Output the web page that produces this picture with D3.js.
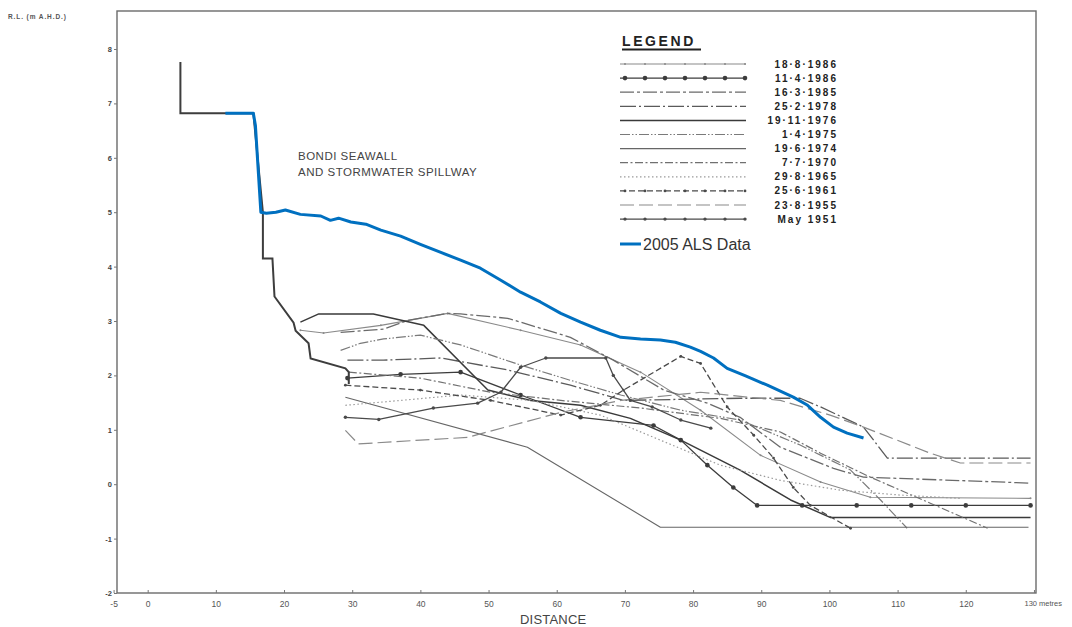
<!DOCTYPE html>
<html>
<head>
<meta charset="utf-8">
<script src="https://cdn.jsdelivr.net/npm/d3@7"></script>
<style>
  body { margin: 0; background: #fff; }
  text { font-family: "Liberation Sans", Arial, sans-serif; }
</style>
</head>
<body>
<div id="viz-container"></div>
<script>
// profile data: [distance (m), R.L. (m AHD)]
let seawall = [[4.8,7.76],[4.8,6.82],[15.5,6.82],[16.9,5.0],[16.9,4.15],[18.3,4.15],[18.6,3.45],[21.4,2.97],[21.7,2.82],[23.6,2.59],[23.9,2.31],[29.0,2.13],[29.5,2.06],[29.5,1.84]];

let als2005 = [[11.4,6.82],[15.5,6.82],[15.8,6.6],[16.6,5.0],[17.4,4.98],[18.8,5.0],[20.2,5.04],[22.4,4.96],[25.4,4.93],[26.8,4.85],[28.0,4.89],[29.8,4.82],[32.0,4.78],[34.2,4.67],[37.1,4.56],[40.0,4.41],[43.0,4.26],[45.9,4.12],[48.8,3.97],[51.8,3.75],[54.7,3.53],[57.6,3.35],[60.6,3.14],[63.5,2.98],[66.4,2.83],[69.4,2.70],[72.3,2.67],[75.2,2.65],[77.4,2.61],[79.6,2.52],[81.1,2.44],[83.0,2.32],[85.0,2.13],[87.7,1.99],[90.9,1.82],[94.7,1.60],[96.8,1.45],[98.7,1.23],[100.6,1.05],[102.6,0.94],[105.0,0.85]];

let p1986a = [[22.4,2.83],[25.8,2.78],[34.2,2.92],[44.0,3.14],[54.7,2.83],[63.5,2.56],[72.3,2.06],[81.1,1.36],[89.9,0.53],[98.7,0.04],[106.0,-0.24],[129.5,-0.26]];
let p1986b = [[29.3,1.95],[37.1,2.02],[45.9,2.06],[54.7,1.64],[63.5,1.23],[74.2,1.08],[78.2,0.81],[82.1,0.35],[85.9,-0.06],[89.4,-0.39],[96,-0.39],[104,-0.39],[112,-0.39],[120,-0.39],[129.5,-0.39]];
let p1985 = [[28.3,2.79],[34.6,2.85],[38.1,3.01],[44.0,3.14],[45.9,3.13],[52.8,3.05],[62.0,2.70],[68.3,2.28],[75.7,1.73],[82.1,1.49],[86.9,1.23],[92.8,0.68],[100.6,0.29],[105.0,0.13],[129.5,0.02]];
let p1978 = [[29.3,2.28],[34.6,2.28],[43.0,2.32],[52.8,2.10],[62.0,1.82],[69.8,1.54],[86.9,1.58],[95.7,1.58],[98.7,1.42],[105.0,1.05],[108.5,0.48],[129.5,0.48]];
let p1976 = [[22.4,2.98],[25.1,3.13],[33.1,3.13],[40.5,2.92],[49.9,1.73],[56.2,1.54],[63.5,1.45],[70.8,1.21],[78.2,0.81],[86.9,0.26],[94.3,-0.29],[100.1,-0.61],[129.5,-0.61]];
let p1975 = [[28.3,2.46],[31.2,2.59],[34.6,2.67],[40.0,2.74],[45.9,2.56],[54.7,2.19],[62.0,1.91],[69.4,1.64],[78.2,1.36],[86.9,1.18],[95.7,0.72],[103.1,0.26],[107.5,-0.29],[111.4,-0.81]];
let p1974 = [[29.0,1.60],[55.7,0.68],[75.2,-0.79],[129.2,-0.79]];
let p1970 = [[29.5,2.06],[40.0,1.95],[50.3,1.69],[60.6,1.54],[72.3,1.40],[84.0,1.21],[92.8,0.96],[98.7,0.57],[106.0,0.13],[114.8,-0.35],[123.2,-0.81]];
let p1965 = [[29.0,1.45],[37.1,1.54],[45.9,1.64],[56.2,1.54],[66.4,1.27],[75.2,0.81],[84.0,0.35],[92.8,0.07],[101.6,-0.11],[110.4,-0.20],[119.2,-0.26]];
let p1961 = [[29.0,1.82],[40.0,1.73],[50.3,1.54],[60.6,1.27],[66.4,1.45],[69.8,1.73],[78.2,2.35],[81.1,2.22],[85.0,1.42],[88.9,0.90],[91.8,0.48],[94.7,-0.06],[97.2,-0.39],[103.1,-0.81]];
let p1955 = [[29.0,0.99],[30.9,0.74],[40.0,0.81],[46.9,0.86],[50.7,0.99],[60.6,1.32],[69.4,1.54],[81.1,1.69],[92.8,1.54],[100.1,1.27],[105.0,1.05],[114.8,0.57],[119.2,0.39],[129.5,0.39]];
let p1951 = [[29.0,1.23],[33.9,1.19],[41.9,1.40],[48.4,1.49],[51.8,1.69],[54.7,2.15],[58.4,2.32],[67.2,2.32],[68.3,2.00],[70.8,1.54],[74.0,1.42],[78.2,1.18],[82.6,1.03]];

let surveyDates = ["18·8·1986","11·4·1986","16·3·1985","25·2·1978","19·11·1976","1·4·1975","19·6·1974","7·7·1970","29·8·1965","25·6·1961","23·8·1955","May 1951"];
let surveyProfiles = [p1986a, p1986b, p1985, p1978, p1976, p1975, p1974, p1970, p1965, p1961, p1955, p1951];

let xTicks = [-5,0,10,20,30,40,50,60,70,80,90,100,110,120,130];
let yTicks = [-2,-1,0,1,2,3,4,5,6,7,8];

// line look for each survey (same order as surveyDates)
let looks = [
  {color:"#8a8a8a", width:1.1, dash:null, dot:1.0},
  {color:"#3c3c3c", width:1.3, dash:null, dot:2.3},
  {color:"#6a6a6a", width:1.3, dash:"14,3,3,3", dot:0},
  {color:"#5a5a5a", width:1.3, dash:"16,3,2,3", dot:0},
  {color:"#3a3a3a", width:1.5, dash:null, dot:0},
  {color:"#7a7a7a", width:1.2, dash:"10,2,1.5,2,1.5,2", dot:0},
  {color:"#666", width:1.1, dash:null, dot:0},
  {color:"#707070", width:1.2, dash:"8,2.5,2,2.5", dot:0},
  {color:"#9a9a9a", width:1.2, dash:"1.5,2.5", dot:0},
  {color:"#4a4a4a", width:1.3, dash:"6,3", dot:1.4},
  {color:"#8a8a8a", width:1.2, dash:"14,5", dot:0},
  {color:"#4a4a4a", width:1.3, dash:null, dot:1.7}
];

let viz = d3.select("#viz-container")
              .append("svg")
                .attr("width", 1072)
                .attr("height", 627)
;

let xScale = d3.scaleLinear().domain([-4.5, 130.3]).range([117, 1036]);
let yScale = d3.scaleLinear().domain([-2, 8]).range([593, 49]);

let line = d3.line()
  .x(function(d){ return xScale(d[0]); })
  .y(function(d){ return yScale(d[1]); });

// frame
viz.append("rect")
  .attr("x", 117).attr("y", 11)
  .attr("width", 1036 - 117).attr("height", 593 - 11)
  .attr("fill", "none")
  .attr("stroke", "#6b6b6b")
  .attr("stroke-width", 1.4);

// axes
let xAxis = d3.axisBottom(xScale)
  .tickValues(xTicks)
  .tickSize(-3)
  .tickPadding(8)
  .tickFormat(function(d){ return d == 130 ? "130 metres" : (d < 0 ? "-" + Math.abs(d) : d); });

let yAxis = d3.axisLeft(yScale)
  .tickValues(yTicks)
  .tickSize(3)
  .tickPadding(2)
  .tickFormat(function(d){ return d < 0 ? "-" + Math.abs(d) : d; });

let gx = viz.append("g").attr("transform", "translate(0,593)").call(xAxis);
let gy = viz.append("g").attr("transform", "translate(117,0)").call(yAxis);

gx.select(".domain").remove();
gy.select(".domain").remove();
gx.selectAll("line").attr("stroke", "#777");
gy.selectAll("line").attr("stroke", "#777");
gx.selectAll("text").attr("font-size", 8.5).attr("fill", "#555");
gy.selectAll("text").attr("font-size", 7.5).attr("font-weight", "bold").attr("fill", "#444");
gx.selectAll(".tick").filter(function(d){ return d == 130; }).select("text")
  .attr("text-anchor", "start").attr("dx", -10).attr("font-size", 7.5);

viz.append("text")
  .attr("x", 8).attr("y", 19)
  .attr("font-size", 6.5).attr("font-weight", "bold").attr("letter-spacing", 0.9).attr("fill", "#555")
  .text("R.L. (m A.H.D.)");

viz.append("text")
  .attr("x", 520).attr("y", 624)
  .attr("font-size", 13).attr("letter-spacing", 0.2).attr("fill", "#444")
  .text("DISTANCE");

// survey profiles
let profiles = viz.selectAll(".profile").data(surveyProfiles).enter().append("g").attr("class", "profile");

profiles.append("path")
  .attr("d", line)
  .attr("fill", "none")
  .attr("stroke", function(d, i){ return looks[i].color; })
  .attr("stroke-width", function(d, i){ return looks[i].width; })
  .attr("stroke-dasharray", function(d, i){ return looks[i].dash; })
  .attr("stroke-linejoin", "round");

profiles.each(function(d, i){
  if (looks[i].dot > 0) {
    d3.select(this).selectAll("circle").data(d).enter().append("circle")
      .attr("cx", function(p){ return xScale(p[0]); })
      .attr("cy", function(p){ return yScale(p[1]); })
      .attr("r", looks[i].dot)
      .attr("fill", looks[i].color);
  }
});

// seawall
viz.append("path")
  .datum(seawall)
  .attr("d", line)
  .attr("fill", "none")
  .attr("stroke", "#3d3d3d")
  .attr("stroke-width", 2)
  .attr("stroke-linejoin", "miter");

// 2005 ALS
viz.append("path")
  .datum(als2005)
  .attr("d", line)
  .attr("fill", "none")
  .attr("stroke", "#0070c0")
  .attr("stroke-width", 3)
  .attr("stroke-linejoin", "round");

viz.append("text")
  .attr("x", 298).attr("y", 160)
  .attr("font-size", 11.5).attr("letter-spacing", 0.5).attr("fill", "#444")
  .text("BONDI SEAWALL");
viz.append("text")
  .attr("x", 298).attr("y", 176)
  .attr("font-size", 11.5).attr("letter-spacing", 0.5).attr("fill", "#444")
  .text("AND STORMWATER SPILLWAY");

// legend
let legend = viz.append("g");

legend.append("text")
  .attr("x", 622).attr("y", 46)
  .attr("font-size", 14).attr("font-weight", "bold").attr("letter-spacing", 2.6).attr("fill", "#222")
  .text("LEGEND");
legend.append("line")
  .attr("x1", 622).attr("x2", 701).attr("y1", 49.5).attr("y2", 49.5)
  .attr("stroke", "#222").attr("stroke-width", 2);

function getRowY(i){
  return 64 + i * 14.1;
}

let rows = legend.selectAll(".row").data(surveyDates).enter().append("g").attr("class", "row");

rows.append("line")
  .attr("x1", 620).attr("x2", 746)
  .attr("y1", function(d, i){ return getRowY(i); })
  .attr("y2", function(d, i){ return getRowY(i); })
  .attr("stroke", function(d, i){ return looks[i].color; })
  .attr("stroke-width", function(d, i){ return looks[i].width; })
  .attr("stroke-dasharray", function(d, i){ return looks[i].dash; });

rows.each(function(d, i){
  if (looks[i].dot > 0) {
    let xs = d3.range(7).map(function(k){ return 625 + k * 20; });
    d3.select(this).selectAll("circle").data(xs).enter().append("circle")
      .attr("cx", function(x){ return x; })
      .attr("cy", getRowY(i))
      .attr("r", looks[i].dot)
      .attr("fill", looks[i].color);
  }
});

rows.append("text")
  .attr("x", 838)
  .attr("y", function(d, i){ return getRowY(i) + 3.5; })
  .attr("text-anchor", "end")
  .attr("font-size", 10).attr("font-weight", "bold").attr("letter-spacing", 2).attr("fill", "#222")
  .text(function(d){ return d; });

legend.append("line")
  .attr("x1", 620).attr("x2", 641).attr("y1", 244).attr("y2", 244)
  .attr("stroke", "#0070c0").attr("stroke-width", 3);
legend.append("text")
  .attr("x", 643).attr("y", 250)
  .attr("font-size", 16).attr("fill", "#333")
  .attr("font-family", "'Open Sans', sans-serif")
  .text("2005 ALS Data");
</script>
</body>
</html>
